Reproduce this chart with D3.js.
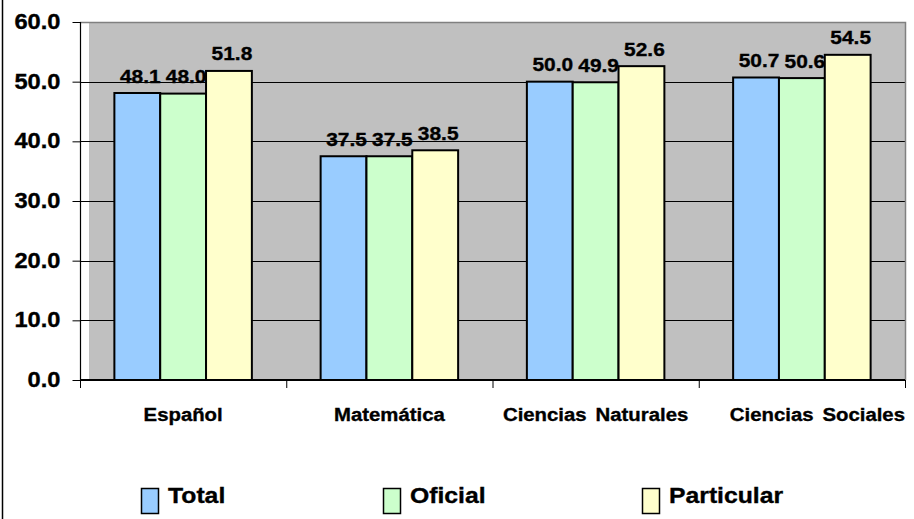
<!DOCTYPE html>
<html>
<head>
<meta charset="utf-8">
<script src="https://cdn.jsdelivr.net/npm/d3@7"></script>
<style>
  html, body { margin: 0; padding: 0; background: #fff; }
  svg { display: block; }
  text { font-family: "Liberation Sans", Arial, sans-serif; font-weight: bold; fill: #000; stroke: #000; stroke-width: 0.35px; }
</style>
</head>
<body>
<svg id="chart" width="914" height="519"></svg>
<script>
// Subjects shown along the x axis
const categories = ["Español", "Matemática", "Ciencias Naturales", "Ciencias Sociales"];
// Series names and their colours
const seriesNames = ["Total", "Oficial", "Particular"];
const seriesColors = ["#99CCFF", "#CCFFCC", "#FFFFCC"];
// Average scores per subject, one array per series
const totalValues = [48.1, 37.5, 50.0, 50.7];
const oficialValues = [48.0, 37.5, 49.9, 50.6];
const particularValues = [51.8, 38.5, 52.6, 54.5];
// Y axis ticks
const yTicks = [0, 10, 20, 30, 40, 50, 60];

const seriesValues = [totalValues, oficialValues, particularValues];
const rows = categories.map((c, i) => ({
  category: c,
  values: seriesNames.map((s, j) => ({ series: s, idx: j, value: seriesValues[j][i] }))
}));

const svg = d3.select("#chart");
const SX = 1.1; // horizontal stretch of the lettering

const axisLeft = 80, axisRight = 905, yBottom = 380, yTop = 22;
const plotLeft = 89;

const x0 = d3.scaleBand().domain(categories).range([axisLeft, axisRight]).paddingInner(0).paddingOuter(0);
const bw = x0.bandwidth();
const groupW = bw / 1.5;   // 50% gap between groups
const x1 = d3.scaleBand().domain(seriesNames).range([(bw - groupW) / 2, (bw + groupW) / 2]);
const y = d3.scaleLinear().domain([0, 60]).range([yBottom, yTop]);

// outer frame line on the left
svg.append("line").attr("x1", 2.5).attr("x2", 2.5).attr("y1", 0).attr("y2", 519)
  .attr("stroke", "#000").attr("stroke-width", 1.5);

// plot area
svg.append("rect").attr("x", plotLeft).attr("y", yTop).attr("width", axisRight - plotLeft).attr("height", yBottom - yTop)
  .attr("fill", "#C0C0C0");

// gridlines
svg.append("g").selectAll("line").data(yTicks.filter(t => t > 0 && t < 60)).join("line")
  .attr("x1", axisLeft).attr("x2", axisRight)
  .attr("y1", d => Math.round(y(d)) + 0.5).attr("y2", d => Math.round(y(d)) + 0.5)
  .attr("stroke", "#000").attr("stroke-width", 1);

// plot area border (top and right)
svg.append("path")
  .attr("d", `M${axisLeft},${yTop + 0.5}H${axisRight + 0.5}V${yBottom}`)
  .attr("fill", "none").attr("stroke", "#808080").attr("stroke-width", 1.5);

// bars
const groups = svg.append("g").selectAll("g").data(rows).join("g")
  .attr("transform", d => `translate(${x0(d.category)},0)`);

groups.selectAll("rect").data(d => d.values).join("rect")
  .attr("x", d => x1(d.series))
  .attr("y", d => y(d.value))
  .attr("width", x1.bandwidth())
  .attr("height", d => y(0) - y(d.value))
  .attr("fill", d => seriesColors[d.idx])
  .attr("stroke", "#000").attr("stroke-width", 2);

// value labels
groups.selectAll("text").data(d => d.values).join("text")
  .attr("transform", d => `translate(${x1(d.series) + x1.bandwidth() / 2 + 3},${y(d.value) - 10.5}) scale(${SX},1)`)
  .attr("text-anchor", "middle")
  .style("font-size", "19px")
  .text(d => d.value.toFixed(1));

// y axis
const yAxis = d3.axisLeft(y).tickValues(yTicks).tickSize(8).tickPadding(0).tickFormat(d => d.toFixed(1));
const gy = svg.append("g").attr("transform", `translate(${axisLeft + 0.5},0)`).call(yAxis);
gy.select(".domain").attr("stroke", "#000").attr("stroke-width", 1.2).attr("d", `M0,${yTop}V${yBottom}`);
gy.selectAll(".tick line").attr("stroke", "#000");
gy.selectAll(".tick text").remove();
gy.selectAll(".tick").append("text")
  .attr("transform", `translate(-20,0) scale(${SX},1)`)
  .attr("text-anchor", "end")
  .attr("dy", "0.3em")
  .style("font-size", "21.5px")
  .text(d => d.toFixed(1));

// x axis
const xAxis = d3.axisBottom(x0).tickSize(0).tickFormat("");
const gx = svg.append("g").attr("transform", `translate(0,${yBottom})`).call(xAxis);
gx.select(".domain").attr("stroke", "#000").attr("stroke-width", 2).attr("d", `M${axisLeft},0H${axisRight}`);
gx.selectAll(".tick").remove();
// category boundary ticks
const bounds = categories.map(c => x0(c)).concat([axisRight]);
gx.selectAll("line.bound").data(bounds).join("line").attr("class", "bound")
  .attr("x1", d => d + 0.5).attr("x2", d => d + 0.5).attr("y1", 0).attr("y2", 8)
  .attr("stroke", "#000");

// category labels
svg.append("g").selectAll("text").data(categories).join("text")
  .attr("transform", (d, i) => {
    const last = i === categories.length - 1;
    const cx = last ? axisRight : x0(d) + bw / 2;
    return `translate(${cx},421) scale(${SX},1)`;
  })
  .attr("text-anchor", (d, i) => i === categories.length - 1 ? "end" : "middle")
  .style("font-size", "18.5px")
  .style("word-spacing", "3px")
  .text(d => d);

// legend
const legendX = [141, 383, 642];
const legend = svg.append("g").selectAll("g").data(seriesNames).join("g")
  .attr("transform", (d, i) => `translate(${legendX[i]},488)`);
legend.append("rect").attr("x", 0.5).attr("y", 0.5).attr("width", 17).attr("height", 25)
  .attr("fill", (d, i) => seriesColors[i]).attr("stroke", "#000").attr("stroke-width", 1.5);
legend.append("text")
  .attr("transform", `translate(27,15) scale(${SX},1)`)
  .style("font-size", "22.5px")
  .text(d => d);
</script>
</body>
</html>
